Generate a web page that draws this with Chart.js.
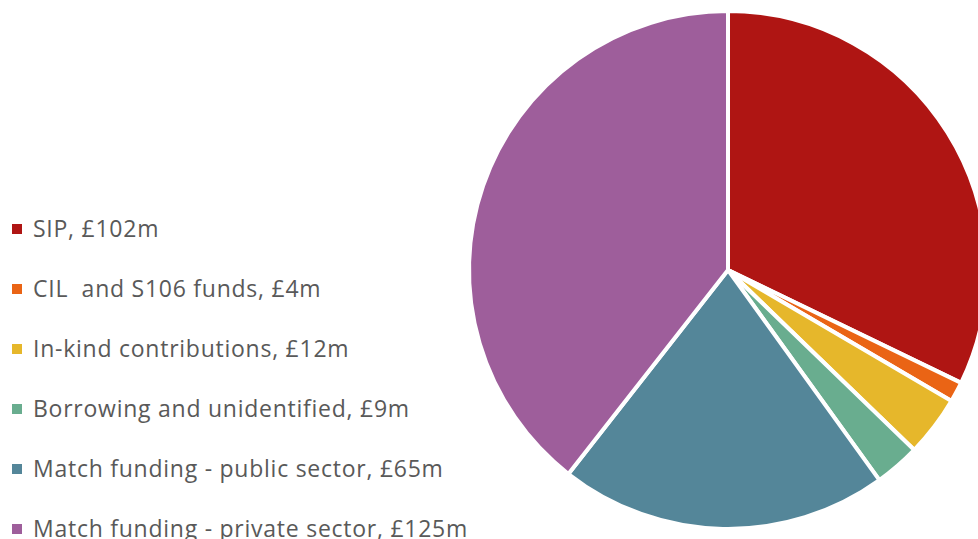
<!DOCTYPE html>
<html>
<head>
<meta charset="utf-8">
<script src="https://cdn.jsdelivr.net/npm/chart.js@4.4.0/dist/chart.umd.min.js"></script>
<style>
	html, body { margin: 0; padding: 0; background: #fff; }
	body { width: 978px; height: 539px; overflow: hidden; position: relative; }
	#legend { position: absolute; left: 0; top: 0; font-family: 'Open Sans', Lato, sans-serif; font-size: 23px; letter-spacing: 0.75px; color: #595959; }
	.item { position: absolute; left: 12px; white-space: pre; line-height: 26px; }
	.swatch { display: inline-block; width: 10px; height: 10px; margin-right: 11px; vertical-align: middle; position: relative; top: -2px; }
	#wrap { position: absolute; left: 464px; top: 6px; width: 528px; height: 528px; }
</style>
</head>
<body>
<div id="legend"></div>
<div id="wrap"><canvas id="pie"></canvas></div>
<script>
// Chart data
const names = ['SIP', 'CIL  and S106 funds', 'In-kind contributions', 'Borrowing and unidentified', 'Match funding - public sector', 'Match funding - private sector'];
const values = [102, 4, 12, 9, 65, 125];
const colors = ['#AF1513', '#EA6415', '#E6B72B', '#69AD8F', '#548699', '#9E5E9B'];

const labels = names.map((n, i) => `${n}, £${values[i]}m`);

// Legend on the left, built from the same arrays
const LEGEND_TOP = 215;
const LEGEND_STEP = 60;
const legend = document.getElementById('legend');
labels.forEach((label, i) => {
	const row = document.createElement('div');
	row.className = 'item';
	row.style.top = `${LEGEND_TOP + i * LEGEND_STEP}px`;
	const sw = document.createElement('span');
	sw.className = 'swatch';
	sw.style.background = colors[i];
	row.appendChild(sw);
	row.appendChild(document.createTextNode(label));
	legend.appendChild(row);
});

new Chart(document.getElementById('pie'), {
	type: 'pie',
	data: {
		labels,
		datasets: [{
			data: values,
			backgroundColor: colors,
			borderColor: '#fff',
			borderWidth: 4
		}]
	},
	options: {
		animation: false,
		responsive: true,
		maintainAspectRatio: false,
		layout: { padding: 3 },
		plugins: {
			legend: { display: false },
			tooltip: { enabled: false }
		}
	}
});
</script>
</body>
</html>
